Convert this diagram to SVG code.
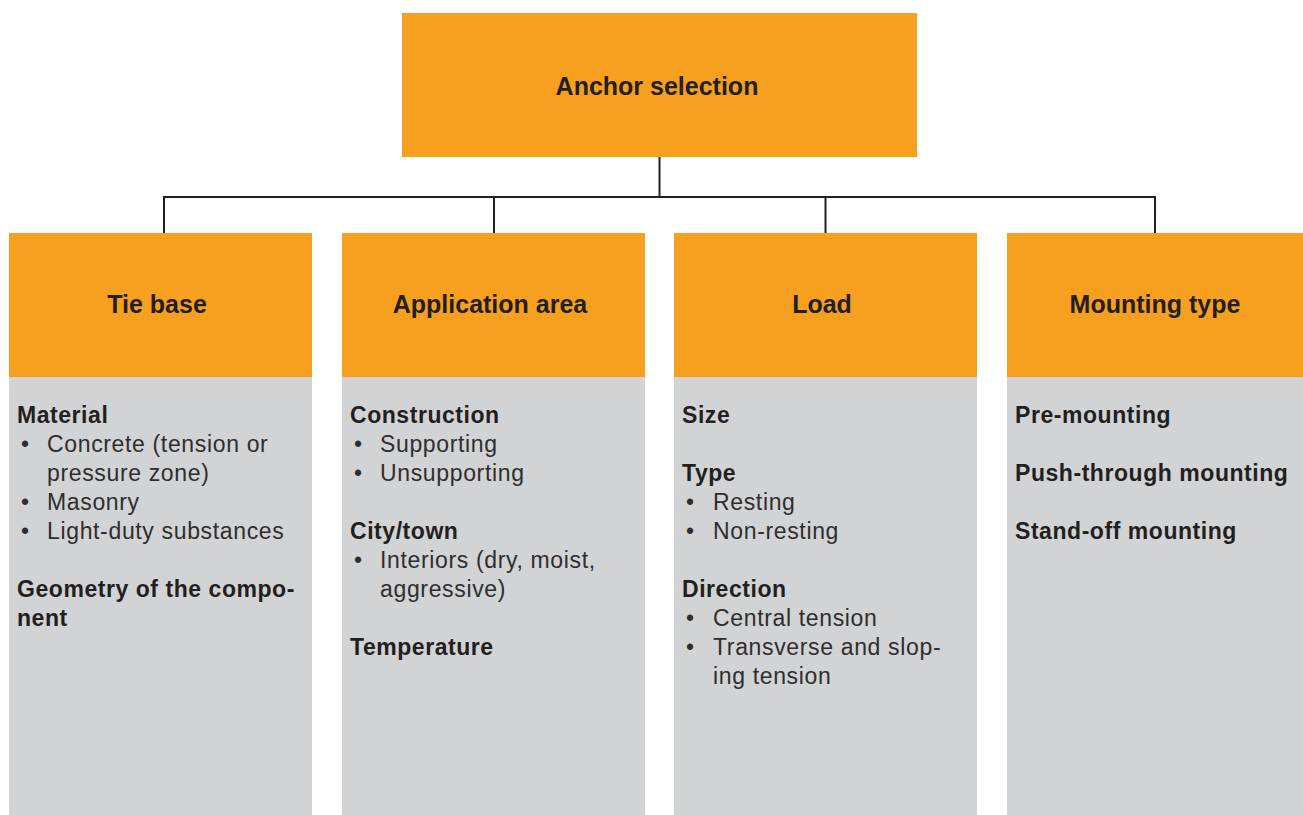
<svg xmlns="http://www.w3.org/2000/svg" width="1303" height="815" viewBox="0 0 1303 815">
<style>
.hd{fill:#F79F1F}
.bd{fill:#D2D3D5}
.ht{font-family:"Liberation Sans",Arial,sans-serif;font-weight:bold;font-size:25px;fill:#231F20;text-anchor:middle}
.b{font-family:"Liberation Sans",Arial,sans-serif;font-weight:bold;font-size:23px;fill:#231F20;letter-spacing:0.55px}
.r{font-family:"Liberation Sans",Arial,sans-serif;font-size:23px;fill:#2E2E2E;letter-spacing:0.65px}
.bu{font-family:"Liberation Sans",Arial,sans-serif;font-size:23px;fill:#2E2E2E;text-anchor:middle}
.ln{fill:none;stroke:#231F20;stroke-width:2}
</style>
<rect width="1303" height="815" fill="#FFFFFF"/>
<g id="connectors">
<path class="ln" d="M659.5 156 V197 M164 233 V197 H1155 V233 M494 197 V233 M825.5 197 V233"/>
</g>
<g id="root">
<rect class="hd" x="402" y="13" width="515" height="144"/>
<text class="ht" x="657" y="95">Anchor selection</text>
</g>
<g id="tie-base">
<rect class="hd" x="9" y="233" width="303" height="144"/>
<rect class="bd" x="9" y="377" width="303" height="438"/>
<text class="ht" x="157" y="313">Tie base</text>
<text class="b" x="17" y="423">Material</text>
<text class="bu" x="25" y="452">•</text><text class="r" x="47" y="452">Concrete (tension or</text>
<text class="r" x="47" y="481">pressure zone)</text>
<text class="bu" x="25" y="510">•</text><text class="r" x="47" y="510">Masonry</text>
<text class="bu" x="25" y="539">•</text><text class="r" x="47" y="539">Light-duty substances</text>
<text class="b" x="17" y="597">Geometry of the compo-</text>
<text class="b" x="17" y="626">nent</text>
</g>
<g id="application-area">
<rect class="hd" x="342" y="233" width="303" height="144"/>
<rect class="bd" x="342" y="377" width="303" height="438"/>
<text class="ht" x="490" y="313">Application area</text>
<text class="b" x="350" y="423">Construction</text>
<text class="bu" x="358" y="452">•</text><text class="r" x="380" y="452">Supporting</text>
<text class="bu" x="358" y="481">•</text><text class="r" x="380" y="481">Unsupporting</text>
<text class="b" x="350" y="539">City/town</text>
<text class="bu" x="358" y="568">•</text><text class="r" x="380" y="568">Interiors (dry, moist,</text>
<text class="r" x="380" y="597">aggressive)</text>
<text class="b" x="350" y="655">Temperature</text>
</g>
<g id="load">
<rect class="hd" x="674" y="233" width="303" height="144"/>
<rect class="bd" x="674" y="377" width="303" height="438"/>
<text class="ht" x="822" y="313">Load</text>
<text class="b" x="682" y="423">Size</text>
<text class="b" x="682" y="481">Type</text>
<text class="bu" x="690" y="510">•</text><text class="r" x="713" y="510">Resting</text>
<text class="bu" x="690" y="539">•</text><text class="r" x="713" y="539">Non-resting</text>
<text class="b" x="682" y="597">Direction</text>
<text class="bu" x="690" y="626">•</text><text class="r" x="713" y="626">Central tension</text>
<text class="bu" x="690" y="655">•</text><text class="r" x="713" y="655">Transverse and slop-</text>
<text class="r" x="713" y="684">ing tension</text>
</g>
<g id="mounting-type">
<rect class="hd" x="1007" y="233" width="296" height="144"/>
<rect class="bd" x="1007" y="377" width="296" height="438"/>
<text class="ht" x="1155" y="313">Mounting type</text>
<text class="b" x="1015" y="423">Pre-mounting</text>
<text class="b" x="1015" y="481">Push-through mounting</text>
<text class="b" x="1015" y="539">Stand-off mounting</text>
</g>
</svg>
